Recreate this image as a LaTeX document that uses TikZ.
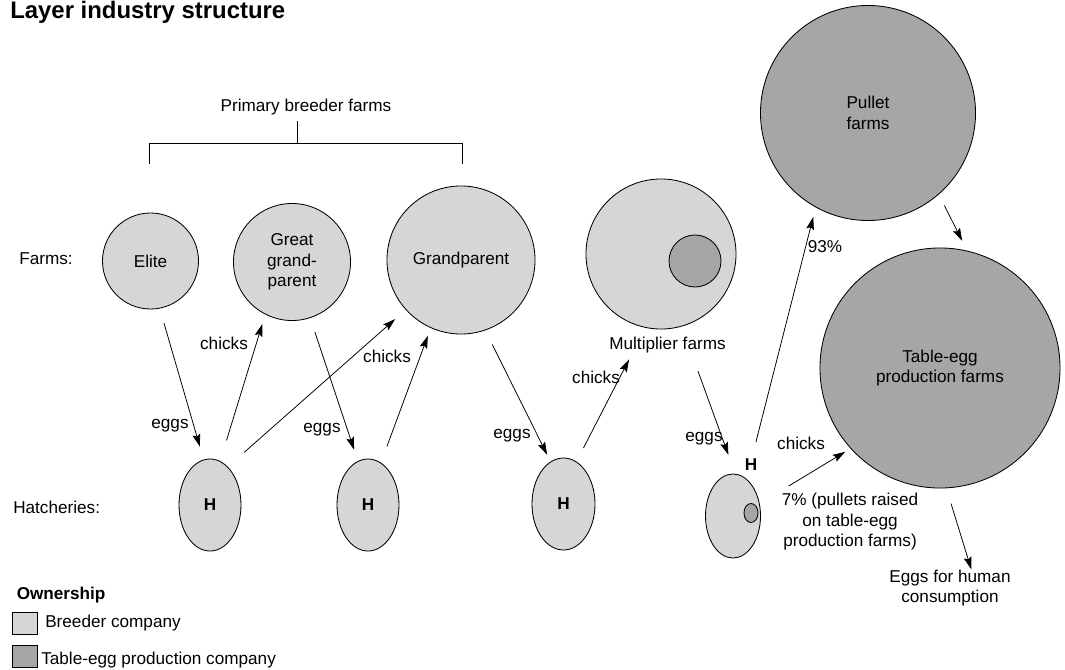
\documentclass[tikz,border=0pt]{standalone}
\usepackage{fontspec}
\setmainfont{Liberation Sans}
\usetikzlibrary{shapes.geometric,arrows.meta}
\definecolor{breeder}{gray}{0.84}
\definecolor{tableegg}{gray}{0.65}

\begin{document}
\begin{tikzpicture}[
    x=0.025cm, y=-0.025cm,
    every node/.style={font=\fontsize{12.2}{14.6}\selectfont, inner sep=0pt},
    farm/.style={circle, draw, line width=0.6pt, fill=breeder, align=center},
    tablefarm/.style={farm, fill=tableegg},
    hatch/.style={ellipse, draw, line width=0.6pt, fill=breeder, font=\fontsize{12.2}{14.6}\selectfont\bfseries},
    boldlbl/.style={font=\fontsize{12.2}{14.6}\selectfont\bfseries},
    key/.style={rectangle, draw, line width=0.6pt, minimum width=0.625cm, minimum height=0.55cm},
    arrow/.style={-{Stealth[length=9pt, width=5.5pt, inset=1.5pt]}, line width=0.55pt}
]
\useasboundingbox (0,0) rectangle (1065,670);

\node[anchor=base west, font=\fontsize{17}{20}\selectfont\bfseries] (title) at (10,18.5) {Layer industry structure};

% Farms
\node[farm, minimum size=2.4cm] (elite) at (150.5,261) {Elite};
\node[farm, minimum size=2.925cm] (great) at (292,262) {Great\\grand-\\parent};
\node[farm, minimum size=3.7cm] (grand) at (461,260) {Grandparent};
\node[farm, minimum size=3.75cm] (multi) at (661,254) {};
\node[tablefarm, minimum size=1.3cm] (multi-core) at (695,261) {};
\node (multi-label) at (667.5,345) {Multiplier farms};
\node[tablefarm, minimum size=5.375cm] (pullet) at (868,113) {Pullet\\farms};
\node[tablefarm, minimum size=6cm] (table) at (940,368) {Table-egg\\production farms};

% Hatcheries
\node[hatch, minimum width=1.55cm, minimum height=2.3cm] (h1) at (210,505) {H};
\node[hatch, minimum width=1.55cm, minimum height=2.3cm] (h2) at (368,505) {H};
\node[hatch, minimum width=1.575cm, minimum height=2.3cm] (h3) at (563.5,504) {H};
\node[hatch, minimum width=1.375cm, minimum height=2.1cm] (h4) at (733,516) {};
\node[hatch, fill=tableegg, minimum width=0.35cm, minimum height=0.475cm] (h4-core) at (751,513) {};
\node[boldlbl] (h4-label) at (751,465) {H};

% Primary breeder bracket
\node (primary) at (306,107) {Primary breeder farms};
\draw[line width=0.6pt] (149,164) |- (462,143) -- (462,164);
\draw[line width=0.6pt] (297,143) -- (297,121);

% Row labels
\node[anchor=west] (farms-row) at (19,259) {Farms:};
\node[anchor=west] (hatch-row) at (13,507) {Hatcheries:};

% Connections
\foreach \a/\b/\s/\e in {
    elite.-79.5/h1.98.8/10.7/9.5,
    h1.77.8/great.-117/15.4/7,
    h1.65.9/grand.-138.7/15.4/9.9,
    great.-72.6/h2.103.3/10.6/8.5,
    h2.73.9/grand.-114.4/12.4/5.9,
    grand.-71.2/h3.107.6/11.2/5.4,
    h3.73.9/multi.-102.5/10.8/25.3,
    multi.-74.4/h4.87.2/33.8/14.2,
    h4.70.4/pullet.-119.6/27.2/7,
    pullet.-49.4/table.77.7/8.8/7.8,
    h4.25.3/table.-138.2/24.2/4.3}
    \draw[arrow, shorten <=\s pt, shorten >=\e pt] (\a) -- (\b);

\node[align=center] (consume) at (950,588) {Eggs for human\\consumption};
\draw[arrow, shorten <=11.4pt] (table.-87.5) -- (consume.41);

% Arrow labels
\foreach \x/\y [count=\i] in {170/426, 322/430, 512/436, 704/439}
    \node (eggs-\i) at (\x,\y) {eggs};
\foreach \x/\y [count=\i] in {224/343, 387/356, 596/377, 801/443}
    \node (chicks-\i) at (\x,\y) {chicks};
\node (pct93) at (825,247) {93\%};
\node[align=center] (pct7) at (850,522) {7\% (pullets raised\\on table-egg\\production farms)};

% Legend
\node[anchor=west, boldlbl] (own) at (16.5,595) {Ownership};
\node[key, fill=breeder] (key-breeder) at (24.5,623) {};
\node[anchor=west] (key-breeder-text) at (45,623) {Breeder company};
\node[key, fill=tableegg] (key-table) at (24.5,656.5) {};
\node[anchor=west] (key-table-text) at (41,660) {Table-egg production company};

\end{tikzpicture}
\end{document}
